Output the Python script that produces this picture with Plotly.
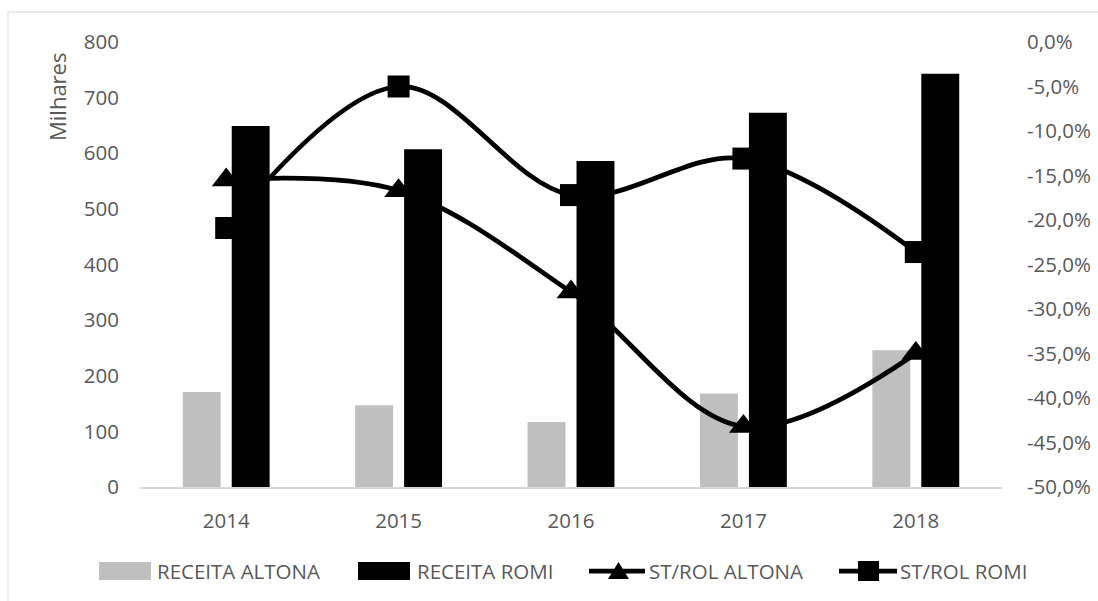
import plotly.graph_objects as go

# ---------------- data ----------------
years = ["2014", "2015", "2016", "2017", "2018"]
receita_altona = [171, 147, 117, 168, 246]          # milhares
receita_romi = [649, 607, 586, 673, 743]            # milhares
st_rol_altona = [-15.5, -16.7, -28.1, -43.2, -35.0]  # %
st_rol_romi = [-20.9, -5.0, -17.2, -13.1, -23.6]     # %

left_ticks = [0, 100, 200, 300, 400, 500, 600, 700, 800]
right_tickvals = [0, -5, -10, -15, -20, -25, -30, -35, -40, -45, -50]
right_ticktext = ["0,0%", "-5,0%", "-10,0%", "-15,0%", "-20,0%", "-25,0%",
                  "-30,0%", "-35,0%", "-40,0%", "-45,0%", "-50,0%"]

legend_names = ["RECEITA ALTONA", "RECEITA ROMI", "ST/ROL ALTONA", "ST/ROL ROMI"]

# ---------------- style ----------------
W, H = 1098, 601
ML, MR, MT, MB = 140, 96, 42, 114
FONT = "Open Sans"
TXT = "#595959"
GRAY = "#bfbfbf"
BLACK = "#000000"
AXLINE = "#d9d9d9"
PW = W - ML - MR
PH = H - MT - MB


def px(xp):
    return (xp - ML) / PW


def py(yp):
    return 1 - (yp - MT) / PH


fig = go.Figure()

# gray bars (base axis, drawn first)
fig.add_trace(go.Bar(
    x=years, y=receita_altona, name=legend_names[0],
    marker=dict(color=GRAY, line=dict(width=0)),
    width=0.22, offset=-0.252, xaxis="x", yaxis="y",
))

# lines (secondary axis, drawn above gray bars)
fig.add_trace(go.Scatter(
    x=years, y=st_rol_altona, name=legend_names[2], mode="lines+markers",
    line=dict(color=BLACK, width=4.75, shape="spline", smoothing=1),
    marker=dict(symbol="triangle-up", size=25, color=BLACK, line=dict(width=0)),
    xaxis="x", yaxis="y2",
))
fig.add_trace(go.Scatter(
    x=years, y=st_rol_romi, name=legend_names[3], mode="lines+markers",
    line=dict(color=BLACK, width=4.75, shape="spline", smoothing=1),
    marker=dict(symbol="square", size=22, color=BLACK, line=dict(width=0)),
    xaxis="x", yaxis="y2",
))

# black bars (third overlay axis, drawn on top)
fig.add_trace(go.Bar(
    x=years, y=receita_romi, name=legend_names[1],
    marker=dict(color=BLACK, line=dict(width=0)),
    width=0.22, offset=0.032, xaxis="x", yaxis="y3",
))

tickfont = dict(family=FONT, size=20.5, color=TXT)

fig.update_layout(
    width=W, height=H,
    margin=dict(l=ML, r=MR, t=MT, b=MB, pad=0, autoexpand=False),
    paper_bgcolor="white", plot_bgcolor="white",
    showlegend=False, barmode="overlay",
    font=dict(family=FONT, color=TXT),
    xaxis=dict(
        type="category", range=[-0.5, 4.5], showgrid=False, zeroline=False,
        showline=True, linecolor=AXLINE, linewidth=2, ticks="",
        tickfont=tickfont, ticklabelstandoff=14, automargin=False,
    ),
    yaxis=dict(
        range=[0, 800], tickvals=left_ticks, showgrid=False, zeroline=False,
        showline=False, ticks="", tickfont=tickfont, ticklabelstandoff=20,
        automargin=False,
    ),
    yaxis2=dict(
        range=[-50, 0], tickvals=right_tickvals, ticktext=right_ticktext,
        overlaying="y", side="right", showgrid=False, zeroline=False,
        showline=False, ticks="", tickfont=tickfont, ticklabelstandoff=24,
        automargin=False,
    ),
    yaxis3=dict(
        range=[0, 800], overlaying="y", visible=False, automargin=False,
    ),
)

shapes = []
annotations = []

# chart frame
shapes.append(dict(type="rect", xref="paper", yref="paper",
                   x0=px(8), x1=px(1110), y0=py(12), y1=py(612),
                   line=dict(color=AXLINE, width=1), fillcolor="rgba(0,0,0,0)",
                   layer="below"))

# axis title
annotations.append(dict(text="Milhares", xref="paper", yref="paper",
                        x=px(57), y=py(97), textangle=-90, showarrow=False,
                        xanchor="center", yanchor="middle",
                        font=dict(family=FONT, size=22, color=TXT)))

# custom legend
LY = 571
shapes.append(dict(type="rect", xref="paper", yref="paper",
                   x0=px(99), x1=px(151), y0=py(562), y1=py(580),
                   fillcolor=GRAY, line=dict(width=0)))
shapes.append(dict(type="rect", xref="paper", yref="paper",
                   x0=px(358), x1=px(410), y0=py(562), y1=py(580),
                   fillcolor=BLACK, line=dict(width=0)))
shapes.append(dict(type="line", xref="paper", yref="paper",
                   x0=px(589), x1=px(645), y0=py(LY), y1=py(LY),
                   line=dict(color=BLACK, width=4.75)))
tri = "M {x0} {y0} L {x1} {y0} L {xm} {y1} Z".format(
    x0=px(608), x1=px(629), xm=px(618.5), y0=py(579), y1=py(562))
shapes.append(dict(type="path", xref="paper", yref="paper", path=tri,
                   fillcolor=BLACK, line=dict(width=0)))
shapes.append(dict(type="line", xref="paper", yref="paper",
                   x0=px(839), x1=px(897), y0=py(LY), y1=py(LY),
                   line=dict(color=BLACK, width=4.75)))
shapes.append(dict(type="rect", xref="paper", yref="paper",
                   x0=px(858), x1=px(879), y0=py(561), y1=py(581),
                   fillcolor=BLACK, line=dict(width=0)))

for name, xs in zip(legend_names, [155, 415, 647, 898]):
    annotations.append(dict(text=name, xref="paper", yref="paper",
                            x=px(xs), y=py(LY), showarrow=False,
                            xanchor="left", yanchor="middle",
                            font=dict(family=FONT, size=20.5, color=TXT)))

fig.update_layout(shapes=shapes, annotations=annotations)

fig.write_html("out.html")
